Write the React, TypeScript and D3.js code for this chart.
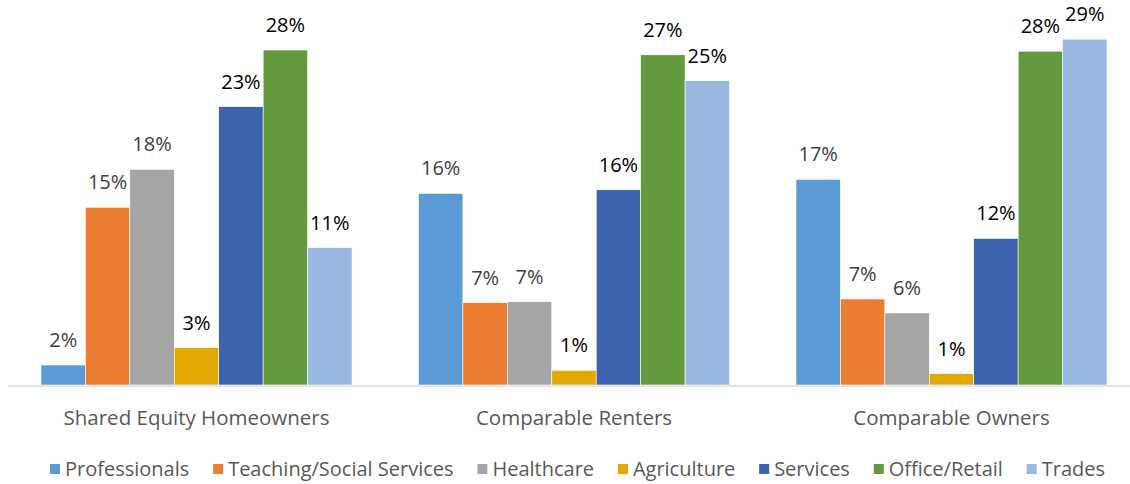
import React, { useEffect, useRef } from "react";
import * as d3 from "d3";

const groups = ["Shared Equity Homeowners", "Comparable Renters", "Comparable Owners"];
const series = ["Professionals", "Teaching/Social Services", "Healthcare", "Agriculture", "Services", "Office/Retail", "Trades"];

// share of each group by occupation (rows = series, columns = groups)
const professionals = [0.0166, 0.159, 0.1707];
const teaching = [0.1475, 0.0683, 0.0714];
const healthcare = [0.179, 0.0691, 0.0598];
const agriculture = [0.031, 0.0122, 0.0094];
const services = [0.231, 0.162, 0.1217];
const officeRetail = [0.278, 0.274, 0.277];
const trades = [0.114, 0.2525, 0.287];

const seriesValues = [professionals, teaching, healthcare, agriculture, services, officeRetail, trades];
const colors = ["#5B9BD5", "#ED7D31", "#A5A5A5", "#E2AA00", "#3D63AC", "#629A3D", "#99B9E0"];
const labelColors = ["#404040", "#404040", "#404040", "#000000", "#000000", "#000000", "#000000"];

const W = 1130;
const H = 484;
const FONT = "'Open Sans', sans-serif";

function App() {
  const ref: React.MutableRefObject<SVGSVGElement | null> = useRef(null);

  useEffect(() => {
    const svg = d3.select(ref.current);
    svg.selectAll("*").remove();

    const x0 = d3.scaleBand<string>()
      .domain(groups)
      .range([7.75, 1140.25])
      .paddingInner(0.176)
      .paddingOuter(0.088);
    const x1 = d3.scaleBand<string>()
      .domain(series)
      .range([0, x0.bandwidth()]);
    const y = d3.scaleLinear().domain([0, 0.3]).range([385, 23.5]);
    const fmt = d3.format(".0%");

    // axis line
    svg.append("line")
      .attr("x1", 8).attr("x2", W)
      .attr("y1", 386).attr("y2", 386)
      .attr("stroke", "#D9D9D9").attr("stroke-width", 1.5);

    const g = svg.append("g");
    series.forEach((s, si) => {
      const vals = seriesValues[si];
      g.selectAll(`rect.s${si}`)
        .data(vals)
        .enter()
        .append("rect")
        .attr("class", `s${si}`)
        .attr("x", (d, i) => (x0(groups[i]) as number) + (x1(s) as number))
        .attr("y", d => y(d))
        .attr("width", x1.bandwidth())
        .attr("height", d => y(0) - y(d))
        .attr("fill", colors[si])
        .attr("stroke", "#ffffff")
        .attr("stroke-width", 0.6);

      g.selectAll(`text.s${si}`)
        .data(vals)
        .enter()
        .append("text")
        .attr("class", `s${si}`)
        .attr("x", (d, i) => (x0(groups[i]) as number) + (x1(s) as number) + x1.bandwidth() / 2)
        .attr("y", d => y(d) - 18)
        .attr("text-anchor", "middle")
        .style("font-family", FONT)
        .style("font-size", "20px")
        .style("fill", labelColors[si])
        .text(d => fmt(d));
    });

    // category labels
    svg.selectAll("text.cat")
      .data(groups)
      .enter()
      .append("text")
      .attr("class", "cat")
      .attr("x", d => (x0(d) as number) + x0.bandwidth() / 2)
      .attr("y", 425)
      .attr("text-anchor", "middle")
      .style("font-family", FONT)
      .style("font-size", "20.5px")
      .style("fill", "#595959")
      .text(d => d);

    // legend, laid out by measured widths to span the same width as the original
    const leg = svg.append("g");
    const items = leg.selectAll("g.item")
      .data(series)
      .enter()
      .append("g")
      .attr("class", "item");
    items.append("rect")
      .attr("width", 10).attr("height", 10)
      .attr("y", -12)
      .attr("fill", (d, i) => colors[i]);
    const texts = items.append("text")
      .attr("x", 15)
      .style("font-family", FONT)
      .style("font-size", "20px")
      .style("fill", "#595959")
      .text(d => d);
    const widths: number[] = [];
    texts.each(function () {
      widths.push(15 + (this as SVGTextElement).getComputedTextLength());
    });
    const left = 50, right = 1105;
    const gap = Math.max(8, (right - left - d3.sum(widths)) / (widths.length - 1));
    const total = d3.sum(widths) + gap * (widths.length - 1);
    let cx = (left + right) / 2 - total / 2;
    const offsets: number[] = [];
    widths.forEach(w => { offsets.push(cx); cx += w + gap; });
    items.attr("transform", (d, i) => `translate(${offsets[i]},476)`);
  }, []);

  return (
    <svg ref={ref} width={W} height={H} style={{ display: "block", position: "absolute", left: 0, top: 0, background: "#fff" }} />
  );
}

export default App;
